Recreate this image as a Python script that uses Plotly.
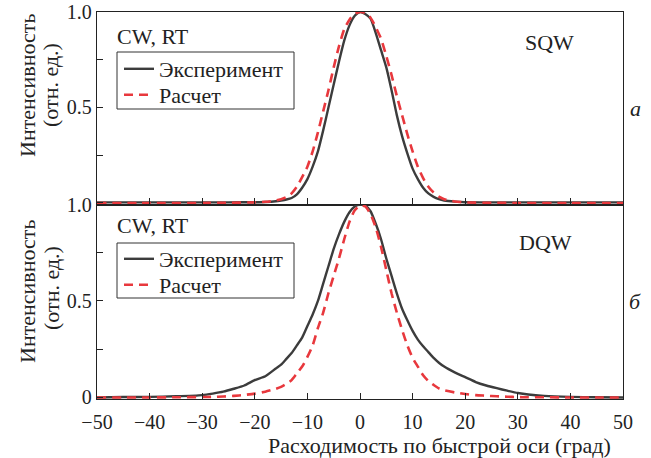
import plotly.graph_objects as go

# ---------------- data ----------------
angle_top = [-50, -40, -30, -25, -20, -18, -16, -15, -14, -13, -12, -11, -10, -9, -8, -7, -6, -5, -4, -3, -2, -1,
             0, 1, 2, 3, 4, 5, 6, 7, 8, 9, 10, 11, 12, 13, 14, 15, 16, 18, 20, 25, 30, 40, 50]
sqw_experiment = [0.003, 0.003, 0.003, 0.003, 0.004, 0.005, 0.009, 0.013, 0.018, 0.026, 0.045, 0.08, 0.125, 0.19,
                  0.27, 0.38, 0.50, 0.62, 0.74, 0.85, 0.93, 0.98,
                  1.0, 0.99, 0.965, 0.89, 0.80, 0.71, 0.59, 0.46, 0.35, 0.26, 0.18, 0.125, 0.08, 0.05, 0.032, 0.02,
                  0.013, 0.007, 0.004, 0.003, 0.003, 0.003, 0.003]
sqw_calc = [0.0, 0.0, 0.0, 0.001, 0.003, 0.006, 0.013, 0.02, 0.03, 0.05, 0.085, 0.135, 0.19, 0.27, 0.37, 0.48, 0.59,
            0.71, 0.82, 0.91, 0.96, 0.99,
            1.0, 0.995, 0.97, 0.92, 0.86, 0.77, 0.67, 0.56, 0.46, 0.36, 0.27, 0.19, 0.13, 0.085, 0.055, 0.033, 0.02,
            0.008, 0.003, 0.001, 0.0, 0.0, 0.0]

angle_bot = [-50, -45, -40, -35, -30, -28, -26, -24, -22, -20, -18, -16, -15, -14, -13, -12, -11, -10, -9, -8, -7, -6,
             -5, -4, -3, -2, -1, 0, 1, 2, 3, 4, 5, 6, 7, 8, 9, 10, 11, 12, 13, 14, 15, 16, 18, 20, 22, 24, 26, 28,
             30, 32, 35, 40, 45, 50]
dqw_experiment = [0.0, 0.002, 0.003, 0.006, 0.012, 0.02, 0.03, 0.045, 0.062, 0.09, 0.11, 0.15, 0.17, 0.2, 0.23,
                  0.27, 0.31, 0.37, 0.43, 0.5, 0.59, 0.68, 0.77, 0.845, 0.91, 0.96, 0.99,
                  1.0, 0.995, 0.965, 0.9, 0.82, 0.72, 0.63, 0.54, 0.46, 0.4, 0.345, 0.3, 0.265, 0.235, 0.205, 0.18,
                  0.16, 0.13, 0.105, 0.08, 0.062, 0.048, 0.035, 0.023, 0.015, 0.008, 0.003, 0.001, 0.0]
dqw_calc = [0.0, 0.0, 0.0, 0.001, 0.002, 0.003, 0.005, 0.008, 0.013, 0.02, 0.03, 0.045, 0.055, 0.07, 0.09, 0.125,
            0.16, 0.21, 0.27, 0.36, 0.44, 0.54, 0.63, 0.72, 0.82, 0.91, 0.97,
            0.995, 0.99, 0.95, 0.88, 0.78, 0.66, 0.54, 0.44, 0.35, 0.27, 0.205, 0.16, 0.115, 0.085, 0.065, 0.047,
            0.037, 0.026, 0.018, 0.012, 0.009, 0.006, 0.004, 0.002, 0.001, 0.001, 0.0, 0.0, 0.0]

x_ticks = [-50, -40, -30, -20, -10, 0, 10, 20, 30, 40, 50]
y_ticks = [0, 0.25, 0.5, 0.75, 1.0]
y_labels_top = ["", "", "0.5", "", "1.0"]
y_labels_bot = ["0", "", "0.5", "", "1.0"]
names = ["Эксперимент", "Расчет"]

# ---------------- styling ----------------
FONT = "'Liberation Serif', 'DejaVu Serif', 'Times New Roman', serif"
BLACK = "#3c3c3c"
RED = "#e8383d"
AX = "#222222"
TXT = 22

W, H = 651, 458
PL, PR, PT, PB = 97, 623, 12, 399   # plot area in pixels


def px_x(p):
    return (p - PL) / float(PR - PL)


def px_y(p):
    return (PB - p) / float(PB - PT)


fig = go.Figure()
line_exp = dict(color=BLACK, width=2.4, shape="spline", smoothing=0.6)
line_calc = dict(color=RED, width=2.6, dash="9px,6px", shape="spline", smoothing=0.6)
fig.add_trace(go.Scatter(x=angle_top, y=sqw_experiment, name=names[0], mode="lines", line=line_exp,
                         xaxis="x", yaxis="y", legend="legend"))
fig.add_trace(go.Scatter(x=angle_top, y=sqw_calc, name=names[1], mode="lines", line=line_calc,
                         xaxis="x", yaxis="y", legend="legend2"))
fig.add_trace(go.Scatter(x=angle_bot, y=dqw_experiment, name=names[0], mode="lines", line=line_exp,
                         xaxis="x2", yaxis="y2", legend="legend3"))
fig.add_trace(go.Scatter(x=angle_bot, y=dqw_calc, name=names[1], mode="lines", line=line_calc,
                         xaxis="x2", yaxis="y2", legend="legend4"))

split = px_y(204.5)
axis_common = dict(showline=True, linecolor=AX, linewidth=1.3, mirror=True, ticks="inside", ticklen=6,
                   tickwidth=1.2, tickcolor=AX, showgrid=False, zeroline=False, automargin=False,
                   ticklabeloverflow="allow",
                   tickfont=dict(family=FONT, size=20, color="#222"))


def leg(xp, yp):
    return dict(x=px_x(xp), y=px_y(yp), xanchor="left", yanchor="middle", bgcolor="rgba(0,0,0,0)",
                borderwidth=0, font=dict(family=FONT, size=TXT, color="#222"), itemwidth=30)


fig.update_layout(
    width=W, height=H,
    margin=dict(l=PL, r=W - PR, t=PT, b=H - PB, autoexpand=False),
    paper_bgcolor="white", plot_bgcolor="white",
    font=dict(family=FONT, size=TXT, color="#222"),
    xaxis=dict(domain=[0, 1], range=[-50, 50], anchor="y", tickvals=x_ticks, showticklabels=False,
               **axis_common),
    yaxis=dict(domain=[split, 1], range=[-0.008, 1.0], anchor="x", tickvals=y_ticks, ticktext=y_labels_top,
               **axis_common),
    xaxis2=dict(domain=[0, 1], range=[-50, 50], anchor="y2", tickvals=x_ticks, ticklabelstandoff=5,
                **axis_common),
    yaxis2=dict(domain=[0, split], range=[-0.008, 1.0], anchor="x2", tickvals=y_ticks, ticktext=y_labels_bot,
                **axis_common),
    legend=leg(119, 69),
    legend2=leg(119, 95),
    legend3=leg(119, 259),
    legend4=leg(119, 285),
    showlegend=True,
)

# legend frames
for top, bot in [(52, 109), (243, 298)]:
    fig.add_shape(type="rect", xref="paper", yref="paper", x0=px_x(117), x1=px_x(294), y0=px_y(bot),
                  y1=px_y(top), line=dict(color="#333", width=1), fillcolor="white", layer="below")

ann = []


def add(text, x, y, xanchor="center", yanchor="middle", size=TXT, angle=0, italic=False):
    ann.append(dict(text=("<i>%s</i>" % text) if italic else text, x=x, y=y, xref="paper", yref="paper",
                    xanchor=xanchor, yanchor=yanchor, showarrow=False, textangle=angle,
                    font=dict(family=FONT, size=size, color="#222")))


add("CW, RT", px_x(115), px_y(37), xanchor="left")
add("CW, RT", px_x(115), px_y(225), xanchor="left")
add("SQW", px_x(523), px_y(42), xanchor="left")
add("DQW", px_x(517), px_y(242), xanchor="left")
add("а", px_x(635), px_y(108), italic=True)
add("б", px_x(635), px_y(302), italic=True)
add("Интенсивность", px_x(27), px_y(86), angle=-90)
add("(отн. ед.)", px_x(51), px_y(85), angle=-90)
add("Интенсивность", px_x(27), px_y(292), angle=-90)
add("(отн. ед.)", px_x(51), px_y(288), angle=-90)
add("Расходимость по быстрой оси (град)", px_x(439), px_y(445))
fig.update_layout(annotations=ann)

fig.write_html("out.html", config={"displayModeBar": False},
               post_script="document.body.style.margin='0';document.body.style.overflow='hidden';")
